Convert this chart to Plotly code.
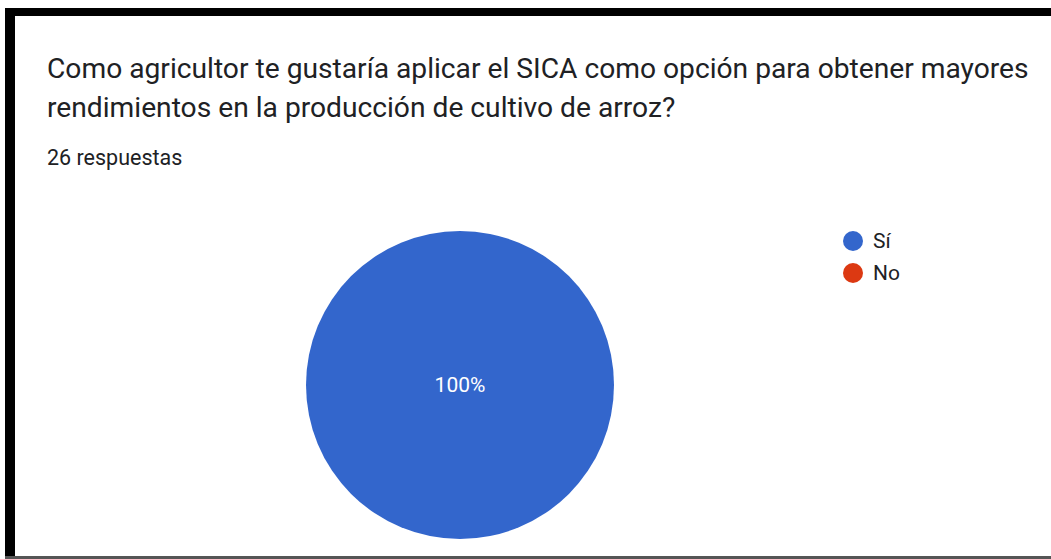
import plotly.graph_objects as go

TITLE_LINES = [
    "Como agricultor te gustaría aplicar el SICA como opción para obtener mayores",
    "rendimientos en la producción de cultivo de arroz?",
]
SUBTITLE = "26 respuestas"
LABELS = ["Sí", "No"]
VALUES = [26, 0]
COLORS = ["#3366CC", "#DC3912"]

W, H = 1051, 559
FONT = "Roboto, Arial, sans-serif"


def px(x):
    return x / W


def py(y):
    return 1 - y / H


fig = go.Figure()
fig.add_trace(
    go.Pie(
        labels=LABELS,
        values=VALUES,
        marker={"colors": COLORS},
        sort=False,
        direction="clockwise",
        textinfo="percent",
        texttemplate=["%{percent:.0%}", ""],
        textposition="inside",
        insidetextfont={"color": "#ffffff", "size": 21, "family": FONT},
        showlegend=False,
        hoverinfo="label+value+percent",
        domain={"x": [px(306), px(614)], "y": [py(539), py(231)]},
    )
)

# legend drawn by hand: Google Forms style round swatches
for i, (lab, col) in enumerate(zip(LABELS, COLORS)):
    cy = 241 + 32 * i
    fig.add_shape(type="circle", xref="paper", yref="paper",
                  x0=px(843), x1=px(863), y0=py(cy + 10), y1=py(cy - 10),
                  fillcolor=col, line={"width": 0})
    fig.add_annotation(text=lab, x=px(871), y=py(cy), xref="paper", yref="paper",
                       xanchor="left", yanchor="middle", showarrow=False,
                       font={"family": FONT, "size": 21, "color": "#202124"})

title_font = {"family": FONT, "size": 28.2, "color": "#202124"}
fig.add_annotation(text=TITLE_LINES[0], x=px(45), y=py(87), xref="paper", yref="paper",
                   xanchor="left", yanchor="bottom", showarrow=False, font=title_font)
fig.add_annotation(text=TITLE_LINES[1], x=px(45), y=py(126), xref="paper", yref="paper",
                   xanchor="left", yanchor="bottom", showarrow=False, font=title_font)
fig.add_annotation(text=SUBTITLE, x=px(45), y=py(172), xref="paper", yref="paper",
                   xanchor="left", yanchor="bottom", showarrow=False,
                   font={"family": FONT, "size": 21.5, "color": "#202124"})

# black frame
fig.add_shape(type="rect", xref="paper", yref="paper", x0=px(5), x1=px(15), y0=0, y1=py(8),
              fillcolor="black", line={"width": 0})
fig.add_shape(type="rect", xref="paper", yref="paper", x0=px(5), x1=1, y0=py(16), y1=py(8),
              fillcolor="black", line={"width": 0})
fig.add_shape(type="rect", xref="paper", yref="paper", x0=px(5), x1=1, y0=py(559), y1=py(556),
              fillcolor="#555555", line={"width": 0})

fig.update_layout(
    width=W, height=H,
    margin={"l": 0, "r": 0, "t": 0, "b": 0},
    paper_bgcolor="white", plot_bgcolor="white",
    showlegend=False,
)

fig.write_html("out.html", config={"displayModeBar": False},
               post_script="document.body.style.margin='0';")
